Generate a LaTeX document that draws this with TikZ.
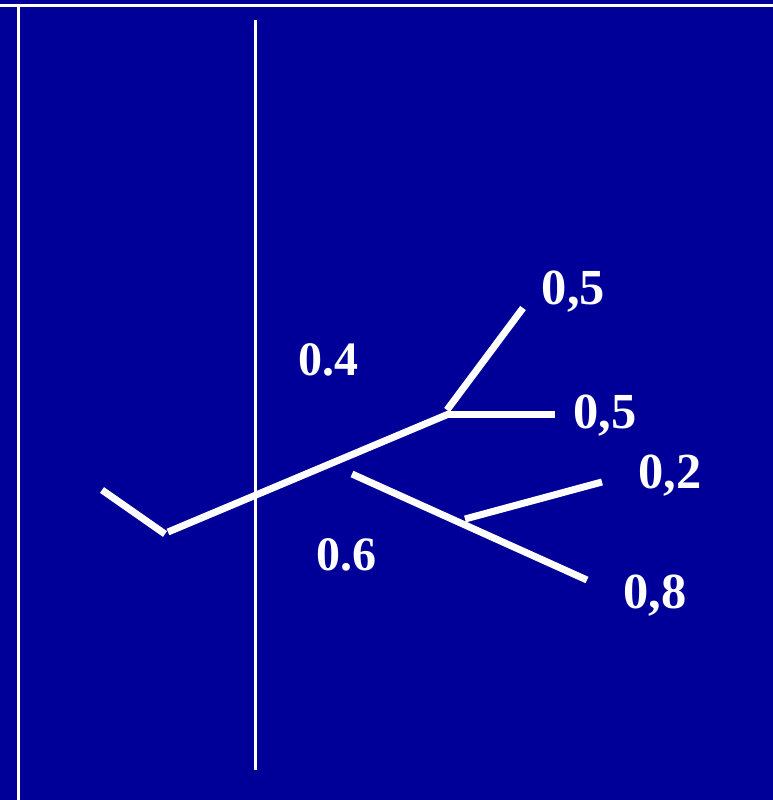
\documentclass[tikz,border=0pt]{standalone}
\usepackage{fontspec}
\setmainfont{Liberation Serif}
\definecolor{bgblue}{RGB}{0,0,153}
\tikzset{
  thick line/.style={draw=white, line width=7pt, line cap=butt},
  thin line/.style={draw=white, line width=3pt},
  small label/.style={text=white, inner sep=0pt, anchor=base, font=\bfseries\fontsize{48}{52}\selectfont},
  big label/.style={text=white, inner sep=0pt, anchor=base, font=\bfseries\fontsize{50.5}{54}\selectfont}
}
\begin{document}
\begin{tikzpicture}[x=1pt, y=-1pt]
\fill[bgblue] (0,0) rectangle (773,800);
\useasboundingbox (0,0) rectangle (773,800);
% frame lines
\coordinate (tl) at (0,5.3);
\coordinate (tr) at (773,5.3);
\coordinate (lt) at (18.5,4);
\coordinate (lb) at (18.5,800);
\coordinate (vt) at (255.5,20);
\coordinate (vb) at (255.5,770);
\draw[draw=white, line width=2.7pt] (tl) -- (tr);
\draw[thin line] (lt) -- (lb);
\draw[thin line] (vt) -- (vb);
% tree
\coordinate (a1) at (102,490);
\coordinate (a2) at (165,534);
\coordinate (m1) at (168,532);
\coordinate (m2) at (451,413);
\coordinate (u1) at (447,410);
\coordinate (u2) at (523,308);
\coordinate (h1) at (448,414);
\coordinate (h2) at (555,414);
\coordinate (l1) at (352,474);
\coordinate (l2) at (587,580);
\coordinate (b1) at (465,519);
\coordinate (b2) at (602,482);
\draw[thick line] (a1) -- (a2);
\draw[thick line] (m1) -- (m2);
\draw[thick line] (u1) -- (u2);
\draw[thick line] (h1) -- (h2);
\draw[thick line] (l1) -- (l2);
\draw[thick line] (b1) -- (b2);
% labels
\node[small label] (p4) at (328,375) {0.4};
\node[small label] (p6) at (346.5,570) {0.6};
\node[big label] (q1) at (573.5,304) {0,5};
\node[big label] (q2) at (605,428) {0,5};
\node[big label] (q3) at (670,488) {0,2};
\node[big label] (q4) at (655,608) {0,8};
\end{tikzpicture}
\end{document}
